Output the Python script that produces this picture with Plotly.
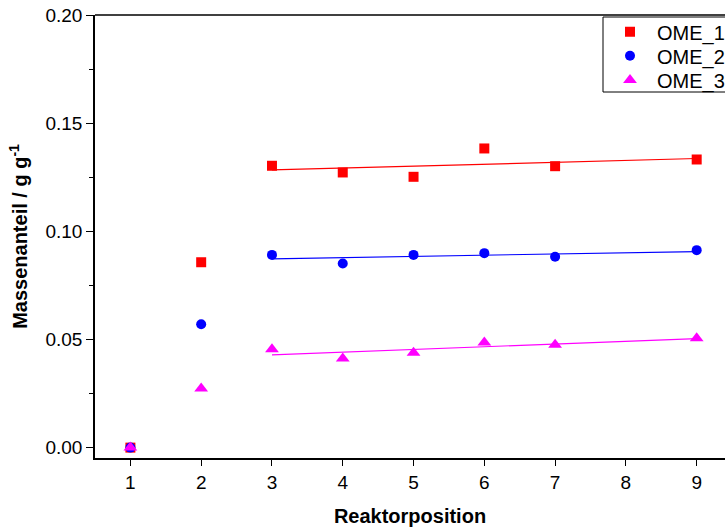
import numpy as np
import plotly.graph_objects as go

positions = [1, 2, 3, 4, 5, 6, 7, 9]
ome_1 = [0.0, 0.0857, 0.1303, 0.1272, 0.1252, 0.1383, 0.1301, 0.1332]
ome_2 = [0.0, 0.0570, 0.0891, 0.0851, 0.0891, 0.0899, 0.0882, 0.0913]
ome_3 = [0.0, 0.0273, 0.0455, 0.0412, 0.0439, 0.0486, 0.0476, 0.0506]
series_names = ["OME_1", "OME_2", "OME_3"]
x_ticks = [1, 2, 3, 4, 5, 6, 7, 8, 9]
y_ticks = [0.00, 0.05, 0.10, 0.15, 0.20]
fit_start = 3

colors = ["#FF0000", "#0000FF", "#FF00FF"]
symbols = ["square", "circle", "triangle-up"]
sizes = [10, 10, 12]
FONT = "Arial, 'Liberation Sans', sans-serif"

W, H = 725, 527
L, R, T, B = 95, 0, 15, 69
pw, ph = W - L - R, H - T - B


def px_to_paper_x(px):
    return (px - L) / pw


def px_to_paper_y(py):
    return 1 - (py - T) / ph


legend_ids = ["legend", "legend2", "legend3"]
legend_rows_px = [31.7, 55.7, 80.0]

fig = go.Figure()
for name, ys, c in zip(series_names, [ome_1, ome_2, ome_3], colors):
    xs = np.array(positions, dtype=float)
    yv = np.array(ys)
    m = xs >= fit_start
    k, b = np.polyfit(xs[m], yv[m], 1)
    xf = np.array([xs[m].min(), xs[m].max()])
    fig.add_trace(go.Scatter(x=xf, y=k * xf + b, mode="lines",
                             line=dict(color=c, width=1.2),
                             showlegend=False, hoverinfo="skip"))

for name, ys, c, s, sz, lg in zip(series_names, [ome_1, ome_2, ome_3], colors, symbols, sizes, legend_ids):
    fig.add_trace(go.Scatter(x=positions, y=ys, mode="markers", name=name, legend=lg,
                             marker=dict(color=c, symbol=s, size=sz, line=dict(width=0))))

legend_common = dict(xanchor="left", yanchor="middle", bgcolor="rgba(0,0,0,0)", borderwidth=0,
                     font=dict(size=20, family=FONT), itemwidth=44)
legend_layout = {}
for lg, py in zip(legend_ids, legend_rows_px):
    legend_layout[lg] = dict(x=px_to_paper_x(603), y=px_to_paper_y(py), **legend_common)

fig.update_layout(
    width=W, height=H,
    margin=dict(l=L, r=R, t=T, b=B, autoexpand=False),
    paper_bgcolor="white", plot_bgcolor="white",
    font=dict(family=FONT, size=19, color="black"),
    showlegend=True,
    xaxis=dict(range=[0.5, 9.4], tickvals=x_ticks, ticks="outside", ticklen=6,
               tickwidth=1.3, tickcolor="black", showline=True, linecolor="black",
               linewidth=1.5, showgrid=False, zeroline=False,
               title=dict(text="<b>Reaktorposition</b>", font=dict(size=20), standoff=18),
               tickfont=dict(size=19)),
    yaxis=dict(range=[-0.0048, 0.2], tickvals=y_ticks, tickformat=".2f",
               ticks="outside", ticklen=7, tickwidth=1.3, tickcolor="black",
               showline=True, linecolor="black", linewidth=1.5,
               showgrid=False, zeroline=False,
               minor=dict(dtick=0.025, tick0=0, ticks="outside", ticklen=4,
                          tickwidth=1.3, tickcolor="black", showgrid=False),
               title=dict(text="<b>Massenanteil / g g<sup>-1</sup></b>", font=dict(size=20), standoff=12),
               tickfont=dict(size=19)),
    shapes=[
        dict(type="line", xref="paper", yref="paper", x0=0, x1=1.02, y0=1, y1=1,
             line=dict(color="black", width=1.5)),
        dict(type="rect", xref="paper", yref="paper",
             x0=px_to_paper_x(603), x1=px_to_paper_x(740),
             y0=px_to_paper_y(92), y1=px_to_paper_y(17),
             line=dict(color="black", width=1), fillcolor="rgba(0,0,0,0)", layer="above"),
    ],
    **legend_layout,
)

fig.write_html("out.html", config={"displayModeBar": False},
               post_script="document.body.style.margin='0px';document.body.style.overflow='hidden';")
